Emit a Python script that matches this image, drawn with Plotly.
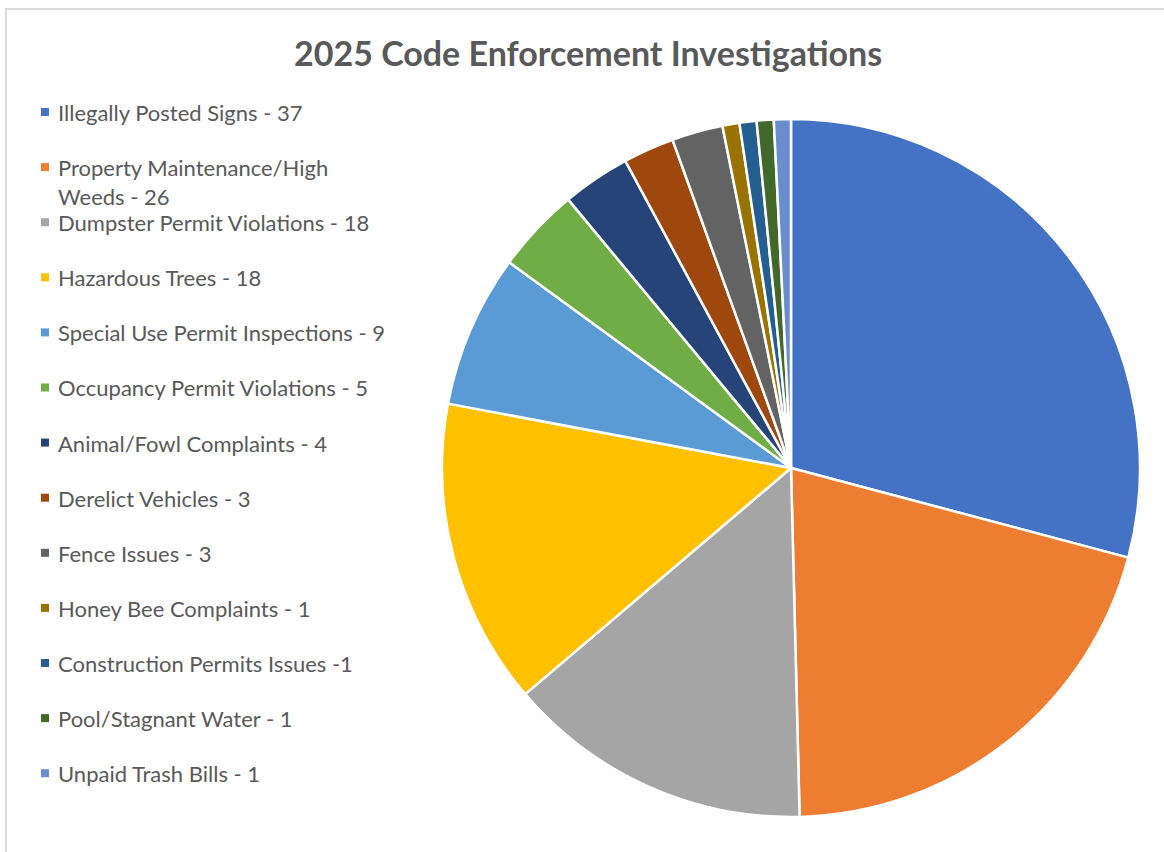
import plotly.graph_objects as go

# Investigation categories and counts for 2025
categories = [
    "Illegally Posted Signs",
    "Property Maintenance/High Weeds",
    "Dumpster Permit Violations",
    "Hazardous Trees",
    "Special Use Permit Inspections",
    "Occupancy Permit Violations",
    "Animal/Fowl Complaints",
    "Derelict Vehicles",
    "Fence Issues",
    "Honey Bee Complaints",
    "Construction Permits Issues",
    "Pool/Stagnant Water",
    "Unpaid Trash Bills",
]
counts = [37, 26, 18, 18, 9, 5, 4, 3, 3, 1, 1, 1, 1]
legend_labels = [
    "Illegally Posted Signs - 37",
    "Property Maintenance/High<br>Weeds - 26",
    "Dumpster Permit Violations - 18",
    "Hazardous Trees - 18",
    "Special Use Permit Inspections - 9",
    "Occupancy Permit Violations - 5",
    "Animal/Fowl Complaints - 4",
    "Derelict Vehicles - 3",
    "Fence Issues - 3",
    "Honey Bee Complaints - 1",
    "Construction Permits Issues -1",
    "Pool/Stagnant Water - 1",
    "Unpaid Trash Bills - 1",
]
colors = [
    "#4472C4", "#ED7D31", "#A5A5A5", "#FFC000", "#5B9BD5", "#70AD47",
    "#264478", "#9E480E", "#636363", "#997300", "#255E91", "#43682B",
    "#698ED0",
]

W, H = 1164, 852
TEXT = "#595959"
FONT = "Lato"
LEG_SIZE = 22

fig = go.Figure(
    go.Pie(
        labels=categories,
        values=counts,
        sort=False,
        direction="clockwise",
        rotation=0,
        textinfo="none",
        hoverinfo="label+value+percent",
        marker=dict(colors=colors, line=dict(color="white", width=2.5)),
        domain=dict(x=[442 / W, 1140 / W], y=[35 / H, 733 / H]),
        showlegend=False,
    )
)

# Legend drawn as a column of swatches and labels on the left
shapes = [
    dict(type="rect", xref="paper", yref="paper",
         x0=6 / W, x1=1.02, y0=-0.02, y1=1 - 9 / H,
         line=dict(color="#D9D9D9", width=2), fillcolor="rgba(0,0,0,0)",
         layer="below"),
]
annotations = [
    dict(text="<b>2025 Code Enforcement Investigations</b>",
         xref="paper", yref="paper", x=588 / W, y=1 - 53 / H,
         xanchor="center", yanchor="middle", showarrow=False,
         font=dict(family=FONT, size=34, color=TEXT)),
]
top, step = 112, 55.1
for i, (lab, col) in enumerate(zip(legend_labels, colors)):
    yc = top + i * step
    shapes.append(dict(type="rect", xref="paper", yref="paper",
                       x0=41 / W, x1=49 / W,
                       y0=1 - (yc + 4) / H, y1=1 - (yc - 4) / H,
                       fillcolor=col, line=dict(width=0)))
    annotations.append(dict(text=lab, xref="paper", yref="paper",
                            x=56 / W, y=1 - (yc - 15) / H,
                            xanchor="left", yanchor="top", align="left",
                            showarrow=False,
                            font=dict(family=FONT, size=LEG_SIZE, color=TEXT)))

fig.update_layout(
    width=W, height=H,
    margin=dict(l=0, r=0, t=0, b=0),
    paper_bgcolor="white", plot_bgcolor="white",
    shapes=shapes, annotations=annotations,
)

fig.write_html("out.html")
